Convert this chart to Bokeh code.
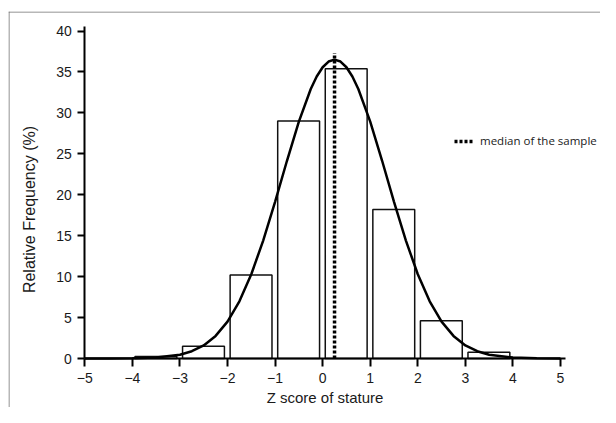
from bokeh.plotting import figure
from bokeh.models import Range1d, Span, Legend, LegendItem, ColumnDataSource, FixedTicker, LinearAxis
from bokeh.embed import file_html
from bokeh.resources import INLINE

# ---- data ----
bin_left = [-4, -3, -2, -1, 0, 1, 2, 3]
bin_freq = [0.25, 1.5, 10.2, 29.0, 35.4, 18.2, 4.6, 0.75]

curve_x = [-5, -4.5, -4, -3.5, -3, -2.75, -2.5, -2.25, -2, -1.75,
           -1.5, -1.25, -1, -0.75, -0.5, -0.25, -0.125, 0, 0.125, 0.25,
           0.375, 0.5, 0.625, 0.75, 1, 1.25, 1.5, 1.75, 2, 2.25,
           2.5, 2.75, 3, 3.25, 3.5, 4, 4.5, 5]
curve_y = [0.0, 0.0, 0.02, 0.11, 0.46, 0.89, 1.60, 2.76, 4.50, 6.99,
           10.29, 14.40, 19.14, 24.15, 28.93, 32.92, 34.44, 35.57, 36.27, 36.5,
           36.27, 35.57, 34.44, 32.92, 28.93, 24.15, 19.14, 14.40, 10.29, 6.99,
           4.50, 2.76, 1.60, 0.89, 0.46, 0.11, 0.02, 0.0]

median_value = 0.25
median_top = 37.3

x_ticks = [-5, -4, -3, -2, -1, 0, 1, 2, 3, 4, 5]
y_ticks = [0, 5, 10, 15, 20, 25, 30, 35, 40]

x_label = "Z score of stature"
y_label = "Relative Frequency (%)"
legend_label = "median of the sample"

# ---- layout ----
W, H = 600, 407
LEFT, TOP = 8, 11
x_px = 47.57
y_px = 8.1875
x_start = -5 - (84.3 - LEFT) / x_px
x_end = x_start + (W - LEFT) / x_px
y_end = (358 - TOP) / y_px
y_start = y_end - (H - TOP) / y_px

p = figure(width=W, height=H, output_backend="svg", toolbar_location=None,
           x_range=Range1d(x_start, x_end), y_range=Range1d(y_start, y_end),
           min_border_left=LEFT, min_border_right=0, min_border_top=TOP, min_border_bottom=0)
p.grid.visible = False
p.outline_line_color = None
p.background_fill_color = "white"
p.border_fill_color = "white"

# page border (top and left edges visible in the reference)
p.add_layout(Span(location=x_start + 0.5 / x_px, dimension="height", line_color="#707070", line_width=1))
p.add_layout(Span(location=y_end - 0.5 / y_px, dimension="width", line_color="#707070", line_width=1))

# bars
centers = [b + 0.495 for b in bin_left]
src = ColumnDataSource(dict(x=centers, top=bin_freq))
p.vbar(x="x", top="top", bottom=0, width=0.88, source=src,
       fill_color="white", line_color="#111111", line_width=1.5)

# median line
med = p.line(x=[median_value, median_value], y=[0, median_top], line_color="black",
             line_width=3.5, line_dash="3 2")

# normal curve
p.line(x=curve_x, y=curve_y, line_color="black", line_width=2.5)

# axes
for ax in (p.xaxis[0], p.yaxis[0]):
    ax.axis_line_width = 2
    ax.axis_line_color = "black"
    ax.major_tick_line_width = 2
    ax.major_tick_line_color = "black"
    ax.minor_tick_line_color = None
    ax.major_tick_in = 0
    ax.major_label_text_font = "Liberation Sans"
    ax.major_label_text_font_size = "14px"
    ax.major_label_text_color = "#1a1a1a"
    ax.axis_label_text_font = "Liberation Sans"
    ax.axis_label_text_font_style = "normal"
    ax.axis_label_text_color = "#1a1a1a"

p.xaxis.fixed_location = 0
p.yaxis.fixed_location = -5
p.xaxis.bounds = (-5, 5.1)
p.yaxis.bounds = (0, 40.5)
p.xaxis.ticker = FixedTicker(ticks=x_ticks)
p.yaxis.ticker = FixedTicker(ticks=y_ticks)
p.xaxis.major_tick_out = 8
p.yaxis.major_tick_out = 7
p.xaxis.major_label_standoff = 6
p.yaxis.major_label_standoff = 6
p.xaxis.axis_label = x_label
p.xaxis.axis_label_text_font_size = "15px"
p.xaxis.axis_label_standoff = 3

# separate label-only axis so the y label sits where the reference has it
lab_axis = LinearAxis(axis_label=y_label, ticker=FixedTicker(ticks=[]), fixed_location=-5,
                      bounds=(0, 36.4), axis_line_color=None, major_tick_line_color=None,
                      minor_tick_line_color=None, major_tick_out=0, major_tick_in=0,
                      axis_label_standoff=47, axis_label_text_font="Liberation Sans",
                      axis_label_text_font_size="16px", axis_label_text_font_style="normal",
                      axis_label_text_color="#1a1a1a")
p.add_layout(lab_axis, "left")

legend = Legend(items=[LegendItem(label=legend_label, renderers=[med])],
                location=(446, 259), padding=0, margin=0, spacing=0,
                glyph_width=19, glyph_height=14, label_height=14, label_standoff=7,
                border_line_color=None, background_fill_alpha=0,
                label_text_font="Open Sans", label_text_font_size="11.5px",
                label_text_color="#1a1a1a")
p.add_layout(legend)

open("out.html", "w").write(file_html(p, INLINE))
